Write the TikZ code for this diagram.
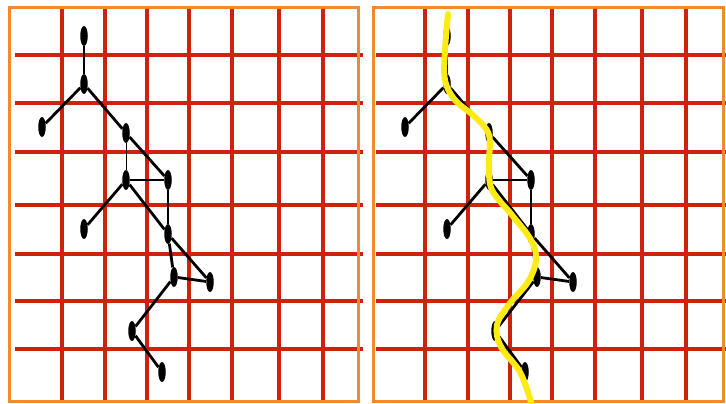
\documentclass[tikz,border=0pt]{standalone}
\usepackage{tikz}
\usetikzlibrary{shapes.geometric}
\definecolor{gridred}{RGB}{206,34,14}
\definecolor{frameorange}{RGB}{240,138,42}
\definecolor{traceyellow}{RGB}{255,234,20}

\begin{document}
\begin{tikzpicture}[
    x=1pt, y=-1pt,
    gridline/.style={draw=gridred, line width=3.6pt},
    frame/.style={draw=frameorange, line width=3pt},
    joint/.style={ellipse, fill=black, inner sep=0pt, minimum width=7.5pt, minimum height=20pt},
    limb/.style={draw=black, line width=2.8pt},
    thinlimb/.style={draw=black, line width=0.8pt},
    trace/.style={draw=traceyellow, line width=6pt, line cap=round}
]
\useasboundingbox (0,0) rectangle (726,404);

\foreach \dx/\xa/\xb in {0/15/363, 363/376/726} {
  \foreach \yy in {55,103,152,205,254,301,349}
    \draw[gridline] (\xa,\yy) -- (\xb,\yy);
  \foreach \xx in {62,105,147,189,232,279,323}
    \draw[gridline] (\xx+\dx,8) -- (\xx+\dx,401);
}
\draw[frame] (9,8) rectangle (358,401);
\draw[frame] (373,8) rectangle (723,401);

\foreach \p/\dx in {l/0, r/363} {
  \begin{scope}[xshift=\dx]
    \node[joint] (\p1) at (84,36) {};
    \node[joint] (\p2) at (84,84) {};
    \node[joint] (\p3) at (42,127) {};
    \node[joint] (\p4) at (126,133) {};
    \node[joint] (\p5) at (126,180) {};
    \node[joint] (\p6) at (168,180) {};
    \node[joint] (\p7) at (84,229) {};
    \node[joint] (\p8) at (168,234) {};
    \node[joint] (\p9) at (174,277) {};
    \node[joint] (\p10) at (210,282) {};
    \node[joint] (\p11) at (132,331) {};
    \node[joint] (\p12) at (162,372) {};
    \draw[limb] (\p1) -- (\p2);
    \draw[limb] (\p2) -- (\p3);
    \draw[limb] (\p2) -- (\p4);
    \draw[thinlimb] (\p4) -- (\p5);
    \draw[limb] (\p4) -- (\p6);
    \draw[limb] (\p5) -- (\p6);
    \draw[limb] (\p5) -- (\p7);
    \draw[limb] (\p5) -- (\p8);
    \draw[limb] (\p6) -- (\p8);
    \draw[limb] (\p8) -- (\p9);
    \draw[limb] (\p8) -- (\p10);
    \draw[limb] (\p9) -- (\p10);
    \draw[limb] (\p9) -- (\p11);
    \draw[limb] (\p11) -- (\p12);
  \end{scope}
}

\draw[trace] plot[smooth, tension=0.6] coordinates {
  (448,14) (445,50) (445,80) (455,100) (475,117) (489,135) (489,165)
  (492,190) (512,215) (531,240) (536,260) (528,282) (510,303) (497,325)
  (501,347) (520,372) (531,402)};
\end{tikzpicture}
\end{document}
